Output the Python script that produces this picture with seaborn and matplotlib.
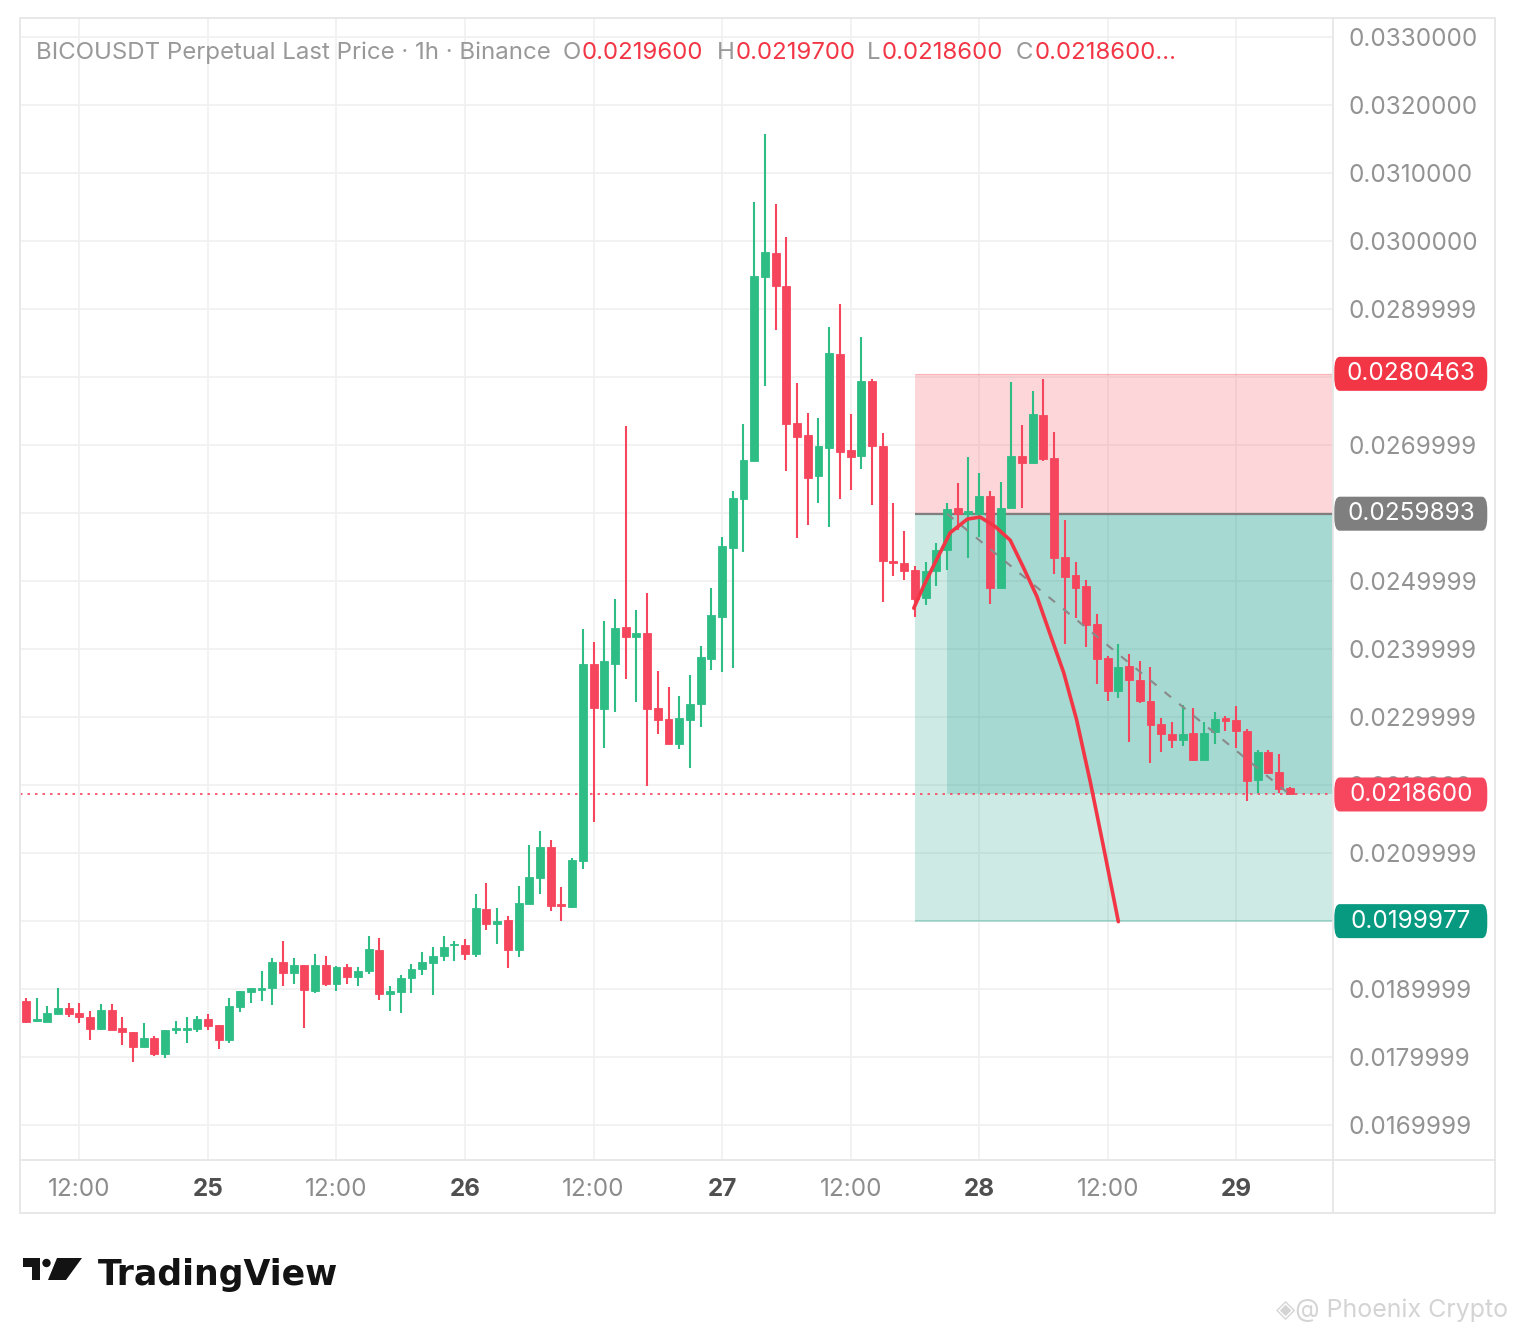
import numpy as np
import pandas as pd
import matplotlib.pyplot as plt
import matplotlib.transforms as mtransforms
from matplotlib.patches import Rectangle, Polygon, Circle, FancyBboxPatch
import seaborn as sns

sns.set_style('white')
plt.rcParams['font.family'] = ['Inter', 'DejaVu Sans']

# BICOUSDT perpetual, 1h candles from Sep 24 07:00 to Sep 29 05:00
opens = [0.01883, 0.01853, 0.01852, 0.01863, 0.01872, 0.01864, 0.01859, 0.01841, 0.01869, 0.01842,
         0.01837, 0.01814, 0.01828, 0.01805, 0.01840, 0.01840, 0.01841, 0.01856, 0.01847, 0.01825,
         0.01874, 0.01896, 0.01899, 0.01901, 0.01940, 0.01923, 0.01935, 0.01897, 0.01935, 0.01907,
         0.01932, 0.01917, 0.01926, 0.01958, 0.01893, 0.01896, 0.01916, 0.01929, 0.01938, 0.01948,
         0.01964, 0.01964, 0.01951, 0.02017, 0.01995, 0.02001, 0.01957, 0.02025, 0.02063, 0.02109,
         0.02025, 0.02021, 0.02088, 0.02378, 0.02312, 0.02378, 0.02432, 0.02418, 0.02424, 0.02313,
         0.02297, 0.02260, 0.02296, 0.02319, 0.02385, 0.02447, 0.02549, 0.02621, 0.02677, 0.02947,
         0.02982, 0.02934, 0.02733, 0.02714, 0.02654, 0.02696, 0.02834, 0.02692, 0.02684, 0.02794,
         0.02698, 0.02530, 0.02527, 0.02516, 0.02475, 0.02515, 0.02545, 0.02608, 0.02599, 0.02599,
         0.02625, 0.02490, 0.02608, 0.02684, 0.02674, 0.02744, 0.02681, 0.02535, 0.02509, 0.02492,
         0.02436, 0.02386, 0.02338, 0.02375, 0.02355, 0.02323, 0.02289, 0.02275, 0.02266, 0.02276,
         0.02237, 0.02278, 0.02298, 0.02295, 0.02280, 0.02207, 0.02249, 0.02219, 0.02196]
highs = [0.01887, 0.01886, 0.01875, 0.01902, 0.01880, 0.01879, 0.01867, 0.01878, 0.01878, 0.01859,
         0.01837, 0.01850, 0.01831, 0.01840, 0.01853, 0.01859, 0.01860, 0.01863, 0.01847, 0.01886,
         0.01897, 0.01902, 0.01927, 0.01945, 0.01970, 0.01946, 0.01935, 0.01951, 0.01948, 0.01934,
         0.01937, 0.01933, 0.01978, 0.01975, 0.01905, 0.01921, 0.01936, 0.01955, 0.01962, 0.01978,
         0.01971, 0.01974, 0.02039, 0.02056, 0.02019, 0.02007, 0.02052, 0.02112, 0.02133, 0.02119,
         0.02050, 0.02093, 0.02429, 0.02410, 0.02441, 0.02474, 0.02728, 0.02457, 0.02482, 0.02368,
         0.02344, 0.02331, 0.02362, 0.02404, 0.02490, 0.02565, 0.02632, 0.02731, 0.03058, 0.03157,
         0.03055, 0.03006, 0.02791, 0.02747, 0.02740, 0.02874, 0.02907, 0.02746, 0.02859, 0.02797,
         0.02718, 0.02615, 0.02574, 0.02522, 0.02528, 0.02556, 0.02614, 0.02644, 0.02682, 0.02659,
         0.02633, 0.02646, 0.02792, 0.02729, 0.02779, 0.02797, 0.02719, 0.02590, 0.02528, 0.02502,
         0.02452, 0.02389, 0.02408, 0.02392, 0.02383, 0.02373, 0.02298, 0.02292, 0.02317, 0.02313,
         0.02292, 0.02307, 0.02301, 0.02316, 0.02282, 0.02251, 0.02251, 0.02246, 0.02197]
lows = [0.01850, 0.01851, 0.01852, 0.01863, 0.01859, 0.01850, 0.01825, 0.01840, 0.01839, 0.01818,
        0.01792, 0.01814, 0.01802, 0.01799, 0.01834, 0.01821, 0.01837, 0.01839, 0.01811, 0.01821,
        0.01866, 0.01880, 0.01882, 0.01877, 0.01904, 0.01907, 0.01843, 0.01894, 0.01904, 0.01897,
        0.01907, 0.01904, 0.01922, 0.01884, 0.01868, 0.01864, 0.01894, 0.01920, 0.01891, 0.01941,
        0.01941, 0.01942, 0.01947, 0.01987, 0.01966, 0.01931, 0.01947, 0.02025, 0.02040, 0.02014,
        0.02000, 0.02019, 0.02076, 0.02146, 0.02254, 0.02307, 0.02356, 0.02322, 0.02199, 0.02275,
        0.02260, 0.02253, 0.02225, 0.02285, 0.02369, 0.02366, 0.02372, 0.02543, 0.02676, 0.02787,
        0.02869, 0.02662, 0.02563, 0.02582, 0.02614, 0.02579, 0.02620, 0.02634, 0.02665, 0.02611,
        0.02469, 0.02508, 0.02501, 0.02447, 0.02465, 0.02493, 0.02516, 0.02575, 0.02534, 0.02564,
        0.02466, 0.02490, 0.02608, 0.02607, 0.02674, 0.02677, 0.02510, 0.02408, 0.02445, 0.02403,
        0.02349, 0.02324, 0.02328, 0.02263, 0.02321, 0.02232, 0.02249, 0.02254, 0.02257, 0.02235,
        0.02237, 0.02260, 0.02279, 0.02254, 0.02176, 0.02188, 0.02216, 0.02188, 0.02186]
closes = [0.01852, 0.01856, 0.01864, 0.01872, 0.01863, 0.01859, 0.01841, 0.01869, 0.01840, 0.01836,
          0.01815, 0.01828, 0.01805, 0.01839, 0.01842, 0.01842, 0.01856, 0.01846, 0.01825, 0.01875,
          0.01897, 0.01901, 0.01902, 0.01940, 0.01923, 0.01935, 0.01899, 0.01935, 0.01907, 0.01932,
          0.01917, 0.01927, 0.01959, 0.01893, 0.01897, 0.01916, 0.01930, 0.01940, 0.01949, 0.01962,
          0.01966, 0.01951, 0.02019, 0.01995, 0.02000, 0.01957, 0.02026, 0.02064, 0.02109, 0.02022,
          0.02022, 0.02090, 0.02378, 0.02313, 0.02382, 0.02431, 0.02418, 0.02424, 0.02312, 0.02296,
          0.02260, 0.02299, 0.02319, 0.02388, 0.02450, 0.02551, 0.02622, 0.02678, 0.02948, 0.02984,
          0.02934, 0.02731, 0.02711, 0.02652, 0.02698, 0.02835, 0.02690, 0.02683, 0.02794, 0.02698,
          0.02529, 0.02526, 0.02514, 0.02473, 0.02515, 0.02546, 0.02606, 0.02599, 0.02603, 0.02625,
          0.02490, 0.02608, 0.02684, 0.02673, 0.02745, 0.02679, 0.02534, 0.02506, 0.02490, 0.02435,
          0.02385, 0.02338, 0.02373, 0.02354, 0.02324, 0.02288, 0.02275, 0.02266, 0.02275, 0.02237,
          0.02277, 0.02297, 0.02294, 0.02279, 0.02206, 0.02249, 0.02218, 0.02194, 0.02186]

first_candle = '2024-09-24 07:00'
day_zero = '2024-09-25 00:00'

# short position tool
pos_start = '2024-09-27 18:00'
fill_start = '2024-09-27 21:00'
stop_price = 0.0280463
entry_price = 0.0259893
target_price = 0.0199977
last_price = 0.02186

# hand drawn arc (hours from Sep 25 00:00, price)
arc_hours = [65.9, 66.8, 67.7, 69.3, 70.9, 72.1, 73.5, 74.9, 76.1, 77.4, 78.6, 79.9,
             81.1, 82.4, 83.6, 85.0]
arc_prices = [0.02460, 0.02492, 0.02521, 0.02571, 0.02591, 0.02594, 0.02580, 0.02560,
              0.02521, 0.02477, 0.02423, 0.02365, 0.02296, 0.02203, 0.02110, 0.01999]

# axis ticks (labels hidden behind the price tags are left blank)
ytick_vals = [0.017, 0.018, 0.019, 0.020, 0.021, 0.022, 0.023, 0.024, 0.025,
              0.026, 0.027, 0.028, 0.029, 0.030, 0.031, 0.032, 0.033]
ytick_labels = ['0.0169999', '0.0179999', '0.0189999', '', '0.0209999', '0.0219999',
                '0.0229999', '0.0239999', '0.0249999', '', '0.0269999', '',
                '0.0289999', '0.0300000', '0.0310000', '0.0320000', '0.0330000']
xtick_hours = [-12, 0, 12, 24, 36, 48, 60, 72, 84, 96]
xtick_labels = ['12:00', '25', '12:00', '26', '12:00', '27', '12:00', '28', '12:00', '29']

UP = '#2ebd85'
DOWN = '#f6465d'
GRID = '#f0f0f0'

df = pd.DataFrame({'open': opens, 'high': highs, 'low': lows, 'close': closes})
df['time'] = pd.date_range(first_candle, periods=len(df), freq='h')
t0 = pd.Timestamp(day_zero)
df['hour'] = (df['time'] - t0) / pd.Timedelta(hours=1)
df['color'] = np.where(df['close'] >= df['open'], UP, DOWN)

h_pos = (pd.Timestamp(pos_start) - t0) / pd.Timedelta(hours=1)
h_fill = (pd.Timestamp(fill_start) - t0) / pd.Timedelta(hours=1)

W, H = 1516, 1334
fig = plt.figure(figsize=(W / 100, H / 100), dpi=100)
fig.patch.set_facecolor('white')
ax = fig.add_axes([20 / W, 1 - 1160 / H, 1313 / W, 1142 / H])
xmin, xmax = -17.55, 105.04
ax.set_xlim(xmin, xmax)
ax.set_ylim(0.016485, 0.033279)

# grid and ticks
ax.set_yticks(ytick_vals)
ax.set_yticklabels(ytick_labels)
ax.set_xticks(xtick_hours)
ax.set_xticklabels(xtick_labels)
ax.grid(True, color=GRID, lw=1.2, zorder=0)
ax.set_axisbelow(True)
for s in ax.spines.values():
    s.set_visible(False)
ax.yaxis.tick_right()
ax.tick_params(axis='y', length=0, pad=11, labelsize=17.5, labelcolor='#939393')
ax.tick_params(axis='x', length=0, pad=13, labelsize=17.5, labelcolor='#8c8c8c')
for lab in ax.get_xticklabels():
    if ':' not in lab.get_text():
        lab.set_fontweight('bold')
        lab.set_color('#4f4f4f')

# position tool zones
ax.fill_between([h_pos, xmax], entry_price, stop_price, color='#f23645', alpha=0.2, lw=0, zorder=1)
ax.fill_between([h_pos, xmax], target_price, entry_price, color='#089981', alpha=0.2, lw=0, zorder=1)
ax.fill_between([h_fill, xmax], last_price, entry_price, color='#089981', alpha=0.2, lw=0, zorder=1)
ax.hlines(entry_price, h_pos, xmax, color='#7f7f7f', lw=1.6, zorder=1.5)
ax.hlines(stop_price, h_pos, xmax, color='#f23645', alpha=0.2, lw=1, zorder=1.5)
ax.hlines(target_price, h_pos, xmax, color='#089981', alpha=0.3, lw=1.2, zorder=1.5)

# last price line
ax.axhline(last_price, color=DOWN, lw=1.2, ls=(0, (1.5, 3)), zorder=1.6)

# candles
ax.vlines(df['hour'], df['low'], df['high'], colors=df['color'], lw=1.5, zorder=3)
ax.bar(df['hour'], df['close'] - df['open'], bottom=df['open'], width=0.74,
       color=df['color'], edgecolor=df['color'], lw=0.6, zorder=3.1)

# dashed trade line and arc
ax.plot([h_fill, df['hour'].iloc[-1]], [entry_price, last_price], color='#8a8a8a',
        lw=1.5, ls=(0, (4, 5)), zorder=3.5)
sns.lineplot(x=arc_hours, y=arc_prices, sort=False, color='#f23645', lw=2.6, ax=ax,
             zorder=4, estimator=None)


def price_tag(price, color):
    tr = mtransforms.blended_transform_factory(ax.transAxes, ax.transData)
    box = FancyBboxPatch((1.001, price - 0.00025), 0.1165, 0.0005,
                         boxstyle='round,pad=0,rounding_size=0.004', transform=tr,
                         fc=color, ec='none', clip_on=False, zorder=6,
                         mutation_aspect=0.05)
    ax.add_patch(box)
    ax.text(1.0595, price, f'{price:.7f}', transform=tr, ha='center', va='center',
            color='white', fontsize=17.5, clip_on=False, zorder=7)


price_tag(stop_price, '#f23645')
price_tag(entry_price, '#7f7f7f')
price_tag(last_price, '#f7475f')
price_tag(target_price, '#089981')

# overlay in pixel coordinates for frame, legend and logos
ov = fig.add_axes([0, 0, 1, 1], zorder=10)
ov.set_xlim(0, W)
ov.set_ylim(H, 0)
ov.axis('off')
ov.patch.set_alpha(0)
frame = '#e6e6e6'
ov.add_patch(Rectangle((20, 18), 1475, 1195, fill=False, ec=frame, lw=1.3))
ov.plot([1333, 1333], [18, 1213], color=frame, lw=1.3)
ov.plot([20, 1495], [1160, 1160], color=frame, lw=1.3)

# legend line
legend_parts = [(36, 'BICOUSDT Perpetual Last Price · 1h · Binance', '#999999'),
                (563, 'O', '#999999'), (582, '0.0219600', '#f23645'),
                (717, 'H', '#999999'), (736, '0.0219700', '#f23645'),
                (867, 'L', '#999999'), (882, '0.0218600', '#f23645'),
                (1016, 'C', '#999999'), (1035, '0.0218600...', '#f23645')]
for x, txt, col in legend_parts:
    ov.text(x, 53, txt, color=col, fontsize=17.3, ha='left', va='center')

# TradingView logo
ov.add_patch(Polygon([(23, 1258), (40, 1258), (40, 1280), (32, 1280), (32, 1267), (23, 1267)],
                     closed=True, fc='#131313', ec='none'))
ov.add_patch(Circle((46.5, 1263), 4.2, fc='#131313', ec='none'))
ov.add_patch(Polygon([(57, 1258), (82, 1258), (66, 1280), (48, 1280)], closed=True,
                     fc='#131313', ec='none'))
ov.text(98, 1275, 'TradingView', fontsize=25, fontweight='bold', color='#131313',
        ha='left', va='center', family=['DejaVu Sans'])

# watermark
ov.text(1508, 1310, '◈@ Phoenix Crypto', fontsize=18, color='#d4d4d4', ha='right',
        va='center', family=['Inter', 'DejaVu Sans'])

fig.savefig('out.png', dpi=100, facecolor='white')
